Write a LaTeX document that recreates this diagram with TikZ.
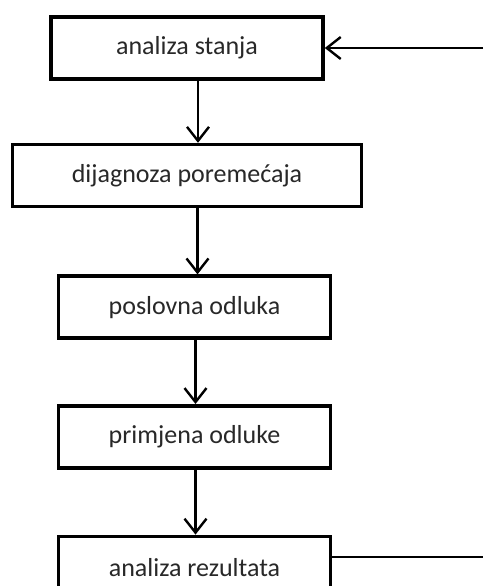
\documentclass[tikz,border=0pt]{standalone}
\usepackage{fontspec}
\setmainfont{Carlito}
\usetikzlibrary{positioning,arrows.meta}
\definecolor{BoxText}{RGB}{40,40,40}
\tikzset{
  flow/.style={-{Straight Barb[length=14pt,width=22pt,line width=2.4pt]},line width=2.4pt,draw=black},
  stepbox/.style={draw=black,fill=white,line width=3.6pt,minimum width=272pt,
    minimum height=62pt,align=center,text=BoxText,font=\fontsize{26}{30}\selectfont}
}

\begin{document}
\begin{tikzpicture}[x=1pt,y=-1pt,node distance=62pt]
  \useasboundingbox (0,0) rectangle (483,586);
  \node[stepbox] (stanje) at (187,48) {analiza stanja};
  \node[stepbox,minimum width=349pt,below=62pt of stanje] (dijagnoza) {dijagnoza poremećaja};
  \node[stepbox,below=66pt of dijagnoza,xshift=7.5pt] (odluka) {poslovna odluka};
  \node[stepbox,below=64pt of odluka] (primjena) {primjena odluke};
  \node[stepbox,below=65pt of primjena] (rezultat) {analiza rezultata};
  \coordinate (povratak) at (483,557);
  \coordinate (ulaz) at (483,48);
  \draw[flow] ([xshift=11pt]stanje.south) -- ([xshift=11pt]stanje.south |- dijagnoza.north);
  \draw[flow] ([xshift=3pt]odluka.north |- dijagnoza.south) -- ([xshift=3pt]odluka.north);
  \draw[flow] ([xshift=1pt]odluka.south) -- ([xshift=1pt]primjena.north);
  \draw[flow] ([xshift=1pt]primjena.south) -- ([xshift=1pt]rezultat.north);
  % povratna veza
  \draw[line width=2.4pt] (rezultat.east |- povratak) -- (povratak);
  \draw[flow] (ulaz) -- (stanje.east);
\end{tikzpicture}
\end{document}
